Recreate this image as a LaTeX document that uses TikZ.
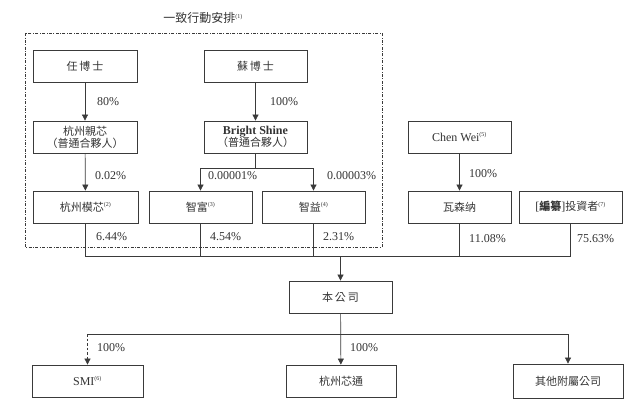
\documentclass[tikz,border=0pt]{standalone}
\usepackage{fontspec}
\setmainfont{Liberation Serif}
\newfontfamily\cjk{Noto Sans CJK TC}
\usetikzlibrary{arrows.meta}
\definecolor{ln}{HTML}{3A3A3A}
\definecolor{tx}{HTML}{333333}
\newcommand{\nt}[1]{\textsuperscript{\fontsize{6}{6}\selectfont(#1)}}
\begin{document}
\begin{tikzpicture}[x=1pt,y=-1pt,
  box/.style={draw=ln,line width=0.8pt,minimum height=32pt,inner sep=0pt,align=center,text=tx,font=\fontsize{12}{13}\selectfont},
  conn/.style={draw=ln,line width=0.7pt},
  arr/.style={conn,-{Triangle[width=6pt,length=6pt]}},
  pct/.style={anchor=west,text=tx,inner sep=0pt,font=\fontsize{12}{13}\selectfont}]
\useasboundingbox (0,0) rectangle (640,408);
% dashed group
\draw[ln,line width=0.6pt,dash pattern=on 3pt off 1.5pt on 0.8pt off 1.5pt] (25,33) rectangle (382,247);
\node[text=tx,font=\fontsize{12}{14}\selectfont] (title) at (203,18) {{\cjk 一致行動安排}\nt{1}};
% nodes
\node[box,minimum width=104pt] (ren) at (85,66) {\cjk\fontsize{11}{12}\selectfont 任\,博\,士};
\node[box,minimum width=103pt] (su) at (255.5,66) {\cjk\fontsize{11}{12}\selectfont 蘇\,博\,士};
\node[box,minimum width=104pt] (hzqx) at (85,137) {\cjk\fontsize{11}{12}\selectfont 杭州親芯\\[-1pt]\cjk\fontsize{11}{12}\selectfont （普通合夥人）};
\node[box,minimum width=103pt] (bs) at (255.5,137) {\bfseries Bright Shine\\[-1pt]\cjk\fontsize{11}{12}\selectfont （普通合夥人）};
\node[box,minimum width=105pt] (hzmx) at (85.5,207) {{\cjk\fontsize{11}{12}\selectfont 杭州模芯}\nt{2}};
\node[box,minimum width=103pt] (zf) at (200.5,207) {{\cjk\fontsize{11}{12}\selectfont 智富}\nt{3}};
\node[box,minimum width=103pt] (zy) at (313.5,207) {{\cjk\fontsize{11}{12}\selectfont 智益}\nt{4}};
\node[box,minimum width=103pt] (chen) at (459.5,137) {Chen Wei\nt{5}};
\node[box,minimum width=103pt] (wsn) at (459.5,207) {\cjk\fontsize{11}{12}\selectfont 瓦森纳};
\node[box,minimum width=103pt] (inv) at (570.5,207) {[{\cjk\bfseries\fontsize{11}{12}\selectfont 編纂}]{\cjk\fontsize{11}{12}\selectfont 投資者}\nt{7}};
\node[box,minimum width=103pt] (bgs) at (340.5,297) {\cjk\fontsize{11}{12}\selectfont 本\,公\,司};
\node[box,minimum width=111pt] (smi) at (87.5,381) {SMI\nt{6}};
\node[box,minimum width=110pt] (hzxt) at (341,381) {\cjk\fontsize{11}{12}\selectfont 杭州芯通};
\node[box,minimum width=110pt,minimum height=34pt] (oth) at (568,381) {\cjk\fontsize{11}{12}\selectfont 其他附屬公司};
% coordinates
\coordinate (bsj) at (bs.south |- 0,168);
\coordinate (bsl) at (zf.north |- 0,168);
\coordinate (bsr) at (zy.north |- 0,168);
\coordinate (busL) at (hzmx.south |- 0,256);
\coordinate (busR) at (inv.south |- 0,256);
\coordinate (busM) at (bgs.north |- 0,256);
\coordinate (lowL) at (smi.north |- 0,334);
\coordinate (lowR) at (oth.north |- 0,334);
% connectors upper
\draw[arr] (ren) -- (hzqx);
\draw[arr] (su) -- (bs);
\draw[arr] (hzqx) -- (hzmx);
\draw[conn] (bs.south) -- (bsj);
\draw[arr] (bsj) -- (bsl) -- (zf);
\draw[arr] (bsj) -- (bsr) -- (zy);
\draw[arr] (chen) -- (wsn);
% bus to company
\draw[conn] (hzmx.south) -- (busL) -- (busR) -- (inv.south);
\draw[conn] (zf.south) -- (zf.south |- busL);
\draw[conn] (zy.south) -- (zy.south |- busL);
\draw[conn] (wsn.south) -- (wsn.south |- busL);
\draw[arr] (busM) -- (bgs);
% lower
\draw[arr] (bgs) -- (hzxt);
\draw[conn] (lowL) -- (lowR);
\draw[arr] (lowR) -- (oth);
\draw[arr,dash pattern=on 2.5pt off 2pt] (lowL) -- (smi);
% labels
\node[pct] (l1) at (97,102) {80\%};
\node[pct] (l2) at (270,102) {100\%};
\node[pct] (l3) at (95,176) {0.02\%};
\node[pct] (l4) at (208,176) {0.00001\%};
\node[pct] (l5) at (327,176) {0.00003\%};
\node[pct] (l6) at (469,174) {100\%};
\node[pct] (l7) at (96,237) {6.44\%};
\node[pct] (l8) at (210,237) {4.54\%};
\node[pct] (l9) at (323,237) {2.31\%};
\node[pct] (l10) at (469,239) {11.08\%};
\node[pct] (l11) at (577,239) {75.63\%};
\node[pct] (l12) at (97,348) {100\%};
\node[pct] (l13) at (350,348) {100\%};
\end{tikzpicture}
\end{document}
